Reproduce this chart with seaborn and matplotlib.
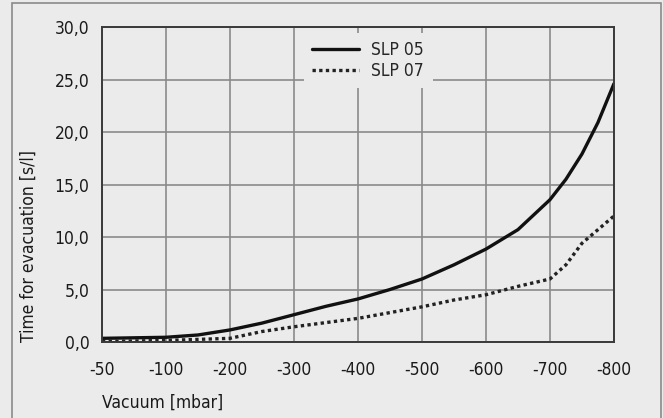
import matplotlib
matplotlib.use("Agg")
import matplotlib.pyplot as plt
import matplotlib.ticker as mticker
from matplotlib.patches import Rectangle
import seaborn as sns
import pandas as pd

# vacuum levels shown on the x axis (evenly spaced categories)
vacuum_labels = ["-50", "-100", "-200", "-300", "-400", "-500", "-600", "-700", "-800"]

# readings; position is in category steps along the axis
pos_slp05 = [0, 1, 1.5, 2, 2.5, 3, 3.5, 4, 4.5, 5, 5.5, 6, 6.5, 7, 7.25, 7.5, 7.75, 8]
slp05 = [0.35, 0.45, 0.67, 1.15, 1.8, 2.6, 3.4, 4.1, 5.0, 6.0, 7.35, 8.85, 10.7, 13.55, 15.5, 17.9, 20.9, 24.6]

pos_slp07 = [0, 1, 1.5, 2, 2.5, 3, 3.5, 4, 4.5, 5, 5.5, 6, 6.5, 7, 7.25, 7.5, 8]
slp07 = [0.05, 0.15, 0.25, 0.35, 1.0, 1.45, 1.85, 2.25, 2.8, 3.35, 4.0, 4.5, 5.3, 6.0, 7.35, 9.4, 12.0]

df = pd.concat([
    pd.DataFrame({"pos": pos_slp05, "time": slp05, "pump": "SLP 05"}),
    pd.DataFrame({"pos": pos_slp07, "time": slp07, "pump": "SLP 07"}),
])

bg = "#ebebeb"
sns.set_theme(style="whitegrid")
plt.rcParams["font.family"] = ["DejaVu Sans"]
plt.rcParams["font.stretch"] = "condensed"

fig = plt.figure(figsize=(6.63, 4.18), dpi=100, facecolor=bg)
ax = fig.add_axes([0.1538, 0.1818, 0.7722, 0.7536])
ax.set_facecolor(bg)

sns.lineplot(data=df, x="pos", y="time", hue="pump", style="pump",
             palette=["#111111", "#222222"], dashes={"SLP 05": "", "SLP 07": (1, 1)},
             linewidth=2.4, ax=ax, sort=False)

ax.set_xlim(0, 8)
ax.set_ylim(0, 30)
ax.set_xticks(range(len(vacuum_labels)))
ax.set_xticklabels(vacuum_labels)
ax.set_yticks([0, 5, 10, 15, 20, 25, 30])
ax.yaxis.set_major_formatter(mticker.FuncFormatter(lambda v, p: f"{v:.1f}".replace(".", ",")))

ax.grid(True, color="#8a8a8a", linewidth=1.2)
for s in ax.spines.values():
    s.set_color("#3a3a3a")
    s.set_linewidth(1.4)

ax.tick_params(axis="x", length=0, pad=14, labelsize=12.5, colors="#1a1a1a")
ax.tick_params(axis="y", length=0, pad=9, labelsize=12.5, colors="#1a1a1a")

ax.set_xlabel("Vacuum [mbar]", loc="left", fontsize=12.5, color="#1a1a1a", labelpad=10)
ax.set_ylabel("Time for evacuation [s/l]", loc="bottom", fontsize=12.5, color="#1a1a1a", labelpad=12)

leg = ax.legend(loc="upper center", bbox_to_anchor=(0.52, 1.01), frameon=True,
                facecolor=bg, edgecolor=bg, framealpha=1, fontsize=12.5,
                handlelength=2.7, handletextpad=0.7, labelspacing=0.15,
                borderpad=0.5, title=None)
leg.get_frame().set_linewidth(0)

fig.patches.append(Rectangle((12 / 663, -0.01), 649 / 663, 1 - 3 / 418 + 0.01,
                             transform=fig.transFigure, fill=False,
                             edgecolor="#8a8a8a", linewidth=1.2))

fig.savefig("out.png", dpi=100, facecolor=bg)
